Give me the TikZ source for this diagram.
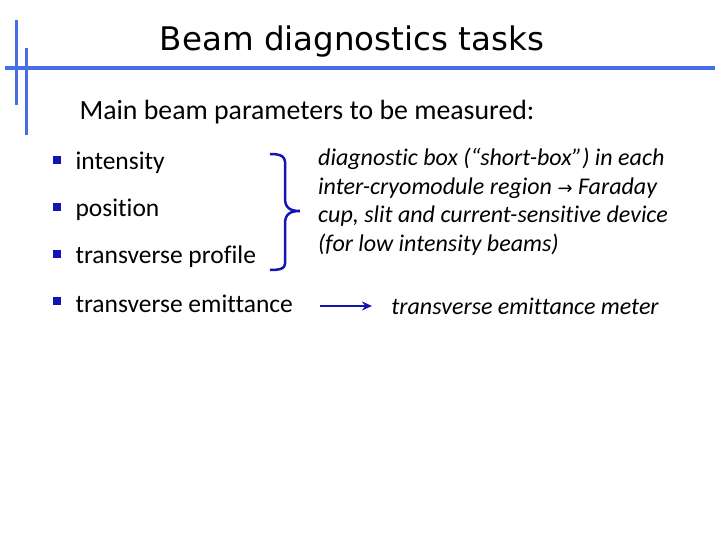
\documentclass[tikz,border=0pt]{standalone}
\usepackage{fontspec}
\setmainfont{Carlito}[Ligatures=NoCommon]
\newfontfamily\titlefont{DejaVu Sans}
\newfontfamily\symfont{DejaVu Sans}
\usetikzlibrary{arrows.meta}
\definecolor{barblue}{RGB}{70,110,230}
\definecolor{darkblue}{RGB}{20,20,180}

\begin{document}
\begin{tikzpicture}[x=1pt,y=-1pt,
	bar/.style={barblue, line width=4pt},
	item/.style={anchor=west, font=\fontsize{25.5}{29}\selectfont},
	bul/.style={fill=darkblue, minimum size=8pt, inner sep=0pt}]
	\useasboundingbox (0,0) rectangle (720,540);
	
	\draw[bar] (5,68) -- (715,68);
	\draw[bar, line width=3pt] (16,20) -- (16,105);
	\draw[bar, line width=3pt] (26,48) -- (26,135);
	
	\node[font=\titlefont\fontsize{32.5}{36}\selectfont] (title) at (352,42) {Beam diagnostics tasks};
	\node[anchor=west, font=\fontsize{27.8}{32}\selectfont] (main) at (76,112) {Main beam parameters to be measured:};
	
	\foreach \y/\t/\n in {163/intensity/int, 210/position/pos, 257/transverse profile/prof, 304/transverse emittance/emit} {
		\node[bul] (b\n) at (57,\y-3) {};
		\node[item] (\n) at (72,\y) {\t};
	}
	
	\draw[darkblue, line width=2.5pt] (270,154) .. controls (288,154) and (285,160) .. (285,175)
		-- (285,198) .. controls (285,208) and (290,211) .. (300,211)
		.. controls (290,211) and (285,214) .. (285,224) -- (285,252)
		.. controls (285,266) and (288,270) .. (270,270);
	
	\node[anchor=north west, align=left, inner sep=0pt, font=\itshape\fontsize{24}{28.5}\selectfont] (box) at (318,148)
		{diagnostic box (“short-box”) in each\\inter-cryomodule region {\symfont\upshape\fontsize{18}{18}\selectfont →} Faraday\\cup, slit and current-sensitive device\\(for low intensity beams)};
	
	\node[font=\itshape\fontsize{24}{28}\selectfont] (meter) at (525,306) {transverse emittance meter};
	\coordinate (a0) at (320,306);
	\draw[darkblue, line width=2.5pt, -{Stealth[length=10pt,width=9pt]}] (a0) -- ++(52,0);
\end{tikzpicture}
\end{document}
